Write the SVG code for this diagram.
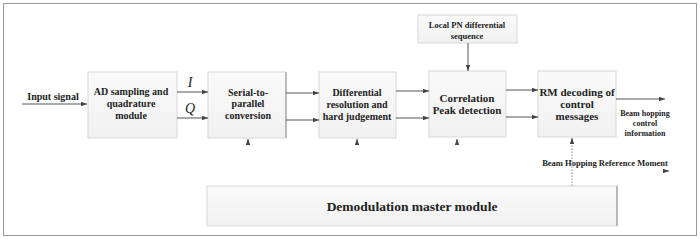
<svg xmlns="http://www.w3.org/2000/svg" width="700" height="239" viewBox="0 0 700 239">
<defs>
<linearGradient id="g" x1="0" y1="0" x2="0" y2="1">
<stop offset="0" stop-color="#fafafa"/>
<stop offset="1" stop-color="#f1f1f1"/>
</linearGradient>
<marker id="a" viewBox="0 0 8 6" refX="8" refY="3" markerWidth="6" markerHeight="4.5" orient="auto" markerUnits="userSpaceOnUse">
<path d="M0,0 L8,3 L0,6 z" fill="#444"/>
</marker>
</defs>
<style>
.box{fill:url(#g);stroke:#d8d8d8;stroke-width:1}
.sh{stroke:#9a9a9a;stroke-width:1.2;fill:none}
.t{font-family:"Liberation Serif",serif;font-weight:bold;fill:#222;text-anchor:middle}
.ln{stroke:#555;stroke-width:1;fill:none;marker-end:url(#a)}
</style>
<rect x="3.5" y="3.5" width="693" height="232" fill="#fff" stroke="#999" stroke-width="1"/>
<g id="ad">
<rect class="box" x="88" y="72" width="89" height="66"/>
<text class="t" font-size="10" x="131" y="95">AD sampling and</text>
<text class="t" font-size="10" x="131" y="107">quadrature</text>
<text class="t" font-size="10" x="131" y="119">module</text>
</g>
<g id="sp">
<rect class="box" x="208" y="72" width="78" height="66"/>
<line class="sh" x1="286" y1="72" x2="286" y2="138"/>
<text class="t" font-size="10" x="248" y="96">Serial-to-</text>
<text class="t" font-size="10" x="248" y="107">parallel</text>
<text class="t" font-size="10" x="248" y="119">conversion</text>
</g>
<g id="diff">
<rect class="box" x="319" y="72" width="77" height="66" stroke="#aaa"/>
<text class="t" font-size="10" x="357" y="96">Differential</text>
<text class="t" font-size="10" x="357" y="108">resolution and</text>
<text class="t" font-size="10" x="357" y="120">hard judgement</text>
</g>
<g id="corr">
<rect class="box" x="429" y="71" width="77" height="66"/>
<text class="t" font-size="11" x="467" y="102">Correlation</text>
<text class="t" font-size="11" x="467" y="114">Peak detection</text>
</g>
<g id="rm">
<rect class="box" x="538" y="71" width="78" height="66"/>
<text class="t" font-size="11" x="577" y="96">RM decoding of</text>
<text class="t" font-size="11" x="577" y="108">control</text>
<text class="t" font-size="11" x="577" y="120">messages</text>
</g>
<g id="pn">
<rect class="box" x="418" y="15" width="99" height="28"/>
<text class="t" font-size="8.5" x="467" y="28">Local PN differential</text>
<text class="t" font-size="8.5" x="467" y="39">sequence</text>
</g>
<g id="demod">
<rect class="box" x="207" y="186" width="410" height="40"/>
<line class="sh" x1="617" y1="186" x2="617" y2="226"/>
<text class="t" font-size="13.5" x="412" y="211">Demodulation master module</text>
</g>
<g id="labels">
<text class="t" font-size="10" x="53" y="100">Input signal</text>
<text x="190" y="87" font-family="Liberation Serif,serif" font-style="italic" font-size="14" fill="#222" text-anchor="middle">I</text>
<text x="190" y="113" font-family="Liberation Serif,serif" font-style="italic" font-size="14" fill="#222" text-anchor="middle">Q</text>
<text class="t" font-size="8" x="645" y="116">Beam hopping</text>
<text class="t" font-size="8" x="645" y="126">control</text>
<text class="t" font-size="8" x="645" y="136">information</text>
<text class="t" font-size="8.5" x="605" y="166">Beam Hopping Reference Moment</text>
</g>
<g id="connectors">
<line class="ln" x1="22" y1="104" x2="87" y2="104"/>
<line class="ln" x1="177" y1="92" x2="208" y2="92"/>
<line class="ln" x1="177" y1="118" x2="208" y2="118"/>
<line class="ln" x1="286" y1="93" x2="319" y2="93"/>
<line class="ln" x1="286" y1="120" x2="319" y2="120"/>
<line class="ln" x1="396" y1="91" x2="429" y2="91"/>
<line class="ln" x1="396" y1="118" x2="429" y2="118"/>
<line class="ln" x1="506" y1="90" x2="538" y2="90"/>
<line class="ln" x1="506" y1="117" x2="538" y2="117"/>
<line class="ln" x1="616" y1="99" x2="665" y2="99"/>
<line class="ln" x1="468" y1="43" x2="468" y2="71"/>
<line class="ln" x1="248" y1="142" x2="248" y2="139"/>
<line class="ln" x1="357" y1="142" x2="357" y2="139"/>
<line class="ln" x1="457" y1="142" x2="457" y2="139"/>
<line x1="572" y1="186" x2="572" y2="140" stroke="#888" stroke-width="1" stroke-dasharray="1.5,1.5"/>
<line class="ln" x1="572" y1="141" x2="572" y2="138"/>
<line class="ln" x1="665" y1="171" x2="669" y2="171"/>
</g>
</svg>
